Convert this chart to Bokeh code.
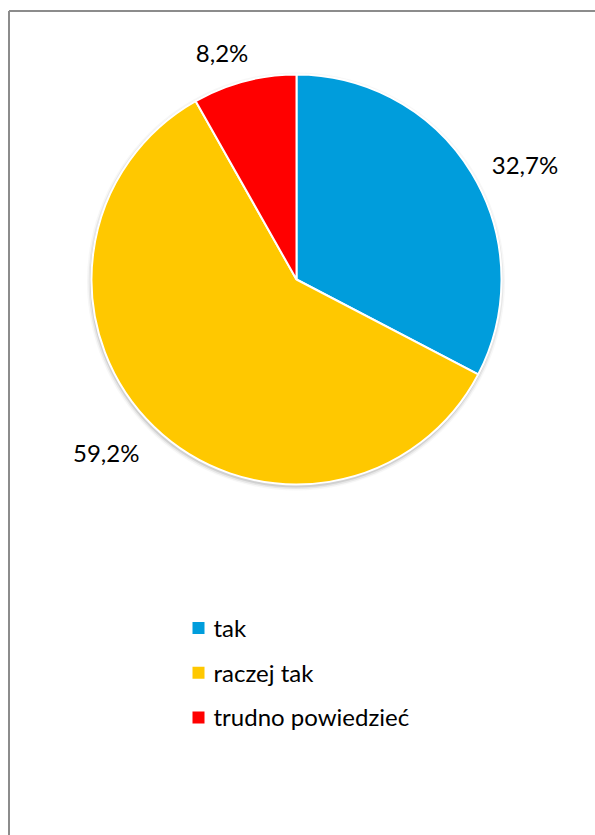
import math
from bokeh.plotting import figure
from bokeh.models import Range1d, ColumnDataSource
from bokeh.core.properties import value
from bokeh.embed import file_html
from bokeh.resources import INLINE

# ---- data ----
categories = ["tak", "raczej tak", "trudno powiedzieć"]
shares = [32.7, 59.2, 8.2]
labels = ["32,7%", "59,2%", "8,2%"]
colors = ["#009DDC", "#FFC800", "#FF0000"]

# ---- layout (page pixels) ----
W, H = 595, 835
OX, OY = 0, 0          # page offset of the figure


def px(x):
    return x - OX


def py(y):
    return (OY + H) - y


cx, cy, R = px(296), py(279), 205
label_dist = [256, 257, 239]
label_nudge = [-4.4, -3.7, 3.4]   # degrees
font = "Lato"

p = figure(width=W, height=H, output_backend="svg", toolbar_location=None,
           x_range=Range1d(0, W), y_range=Range1d(0, H),
           x_axis_type=None, y_axis_type=None, min_border=0)
p.grid.visible = False
p.outline_line_color = None
p.background_fill_color = "white"
p.border_fill_color = "white"

# frame (left and top edges visible)
p.segment(x0=[px(8.5), px(8.5)], y0=[py(10.5), py(10.5)],
          x1=[px(8.5), px(700)], y1=[py(900), py(10.5)],
          line_color="#8C8C8C", line_width=2)

# soft shadow
for dr, a in [(1.0, 0.22), (2.5, 0.12), (4.0, 0.06)]:
    p.circle(x=[cx - 0.5], y=[cy - 2.0], radius=R + dr,
             fill_color="#7F7F7F", fill_alpha=a, line_color=None)

# wedges, clockwise from 12 o'clock
total = sum(shares)
starts, ends, mids = [], [], []
acc = 0.0
for s in shares:
    a0 = math.pi / 2 - 2 * math.pi * acc / total
    acc += s
    a1 = math.pi / 2 - 2 * math.pi * acc / total
    starts.append(a0)
    ends.append(a1)
    mids.append((a0 + a1) / 2)

src = ColumnDataSource(dict(start=starts, end=ends, color=colors, cat=categories))
p.wedge(x=cx, y=cy, radius=R, start_angle="start", end_angle="end",
        direction="clock", fill_color="color", line_color="white",
        line_width=2, source=src)

# data labels
lx, ly = [], []
for m, d, n in zip(mids, label_dist, label_nudge):
    ang = m + math.radians(n)
    lx.append(cx + d * math.cos(ang))
    ly.append(cy + d * math.sin(ang))
p.text(x=lx, y=ly, text=labels, text_align="center",
       text_baseline="alphabetic", y_offset=0.5,
       text_font=value(font), text_font_size="24px", text_color="#000000")

# legend
leg_x, leg_y0, leg_dy = px(198), 627.5, 44.7
ys = [py(leg_y0 + i * leg_dy) for i in range(len(categories))]
p.rect(x=[leg_x] * len(categories), y=ys, width=12, height=12,
       fill_color=colors, line_color=None)
p.text(x=[leg_x + 15] * len(categories), y=ys, text=categories,
       text_align="left", text_baseline="alphabetic", y_offset=-0.5,
       text_font=value(font), text_font_size="24px", text_color="#000000")

open("out.html", "w").write(file_html(p, INLINE))
